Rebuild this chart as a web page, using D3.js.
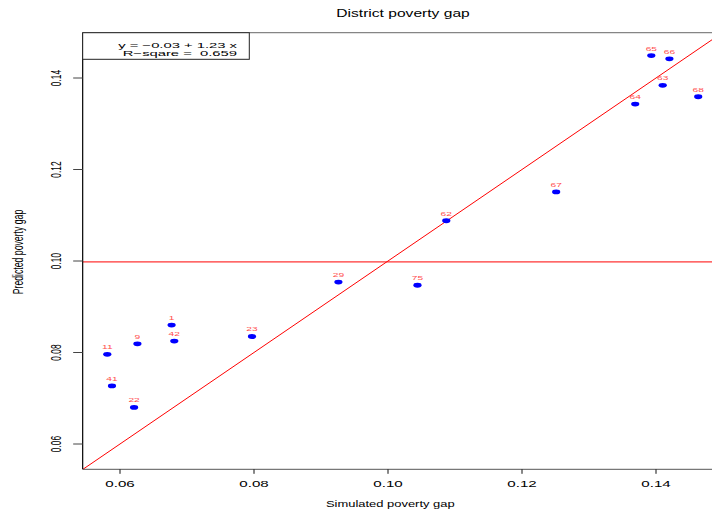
<!DOCTYPE html>
<html>
<head>
<meta charset="utf-8">
<script src="https://cdn.jsdelivr.net/npm/d3@7"></script>
<style>
  html, body { margin: 0; padding: 0; background: #fff; }
  svg { display: block; }
  text { font-family: "Liberation Sans", Arial, Helvetica, sans-serif; }
</style>
</head>
<body>
<svg id="chart" width="712" height="514"></svg>
<script>
// ---- data ----
const districts = ["1","9","11","22","23","29","41","42","62","63","64","65","66","67","68","75"];
const simulated = [0.0677,0.0626,0.0581,0.0621,0.0797,0.0926,0.0588,0.0681,0.1087,0.1410,0.1369,0.1393,0.1420,0.1251,0.1463,0.1044];
const predicted = [0.0860,0.0819,0.0796,0.0680,0.0835,0.0954,0.0727,0.0825,0.1088,0.1384,0.1343,0.1449,0.1442,0.1151,0.1359,0.0947];
const xTicks = [0.06, 0.08, 0.10, 0.12, 0.14];
const yTicks = [0.06, 0.08, 0.10, 0.12, 0.14];
const xTickLabels = ["0.06","0.08","0.10","0.12","0.14"];
const yTickLabels = ["0.06","0.08","0.10","0.12","0.14"];
const meanPredicted = [0.0998];
const xLimits = [0.05443, 0.1560];
const yLimits = [0.05447, 0.1499];
const legendLines = ["y = \u22120.03 + 1.23 x", "R\u2212sqare =  0.659"];
const titleText = "District poverty gap";
const xTitle = "Simulated poverty gap";
const yTitle = "Predicted poverty gap";

// ---- scales ----
const x = d3.scaleLinear().domain([0.06, 0.14]).range([120, 656]);
const y = d3.scaleLinear().domain([0.06, 0.14]).range([444, 78]);

const svg = d3.select("#chart");
const L = x(xLimits[0]), R = x(xLimits[1]), T = y(yLimits[1]), B = y(yLimits[0]);

function stext(parent, px, py, str, o) {
  const g = parent.append("g")
    .attr("transform", `translate(${px},${py}) scale(${o.sx},1)` + (o.rot ? " rotate(-90)" : ""));
  return g.append("text")
    .attr("text-anchor", o.anchor || "middle")
    .style("font-size", o.size + "px")
    .style("white-space", "pre")
    .attr("fill", o.fill || "#000")
    .text(str);
}

svg.append("defs").append("clipPath").attr("id", "plotclip")
  .append("rect").attr("x", L).attr("y", T).attr("width", R - L).attr("height", B - T);

// box
svg.append("line").attr("x1", L).attr("x2", R).attr("y1", T).attr("y2", T).attr("stroke", "#666").attr("stroke-width", 1);
svg.append("line").attr("x1", L).attr("x2", R).attr("y1", B).attr("y2", B).attr("stroke", "#555").attr("stroke-width", 1);

const plot = svg.append("g").attr("clip-path", "url(#plotclip)");

// horizontal mean line
plot.selectAll("line.mean").data(meanPredicted).enter().append("line")
  .attr("x1", L).attr("x2", R).attr("y1", d => y(d)).attr("y2", d => y(d))
  .attr("stroke", "#ff0000").attr("stroke-width", 1);

// 45-degree line
plot.append("line")
  .attr("x1", x(xLimits[0])).attr("y1", y(xLimits[0]))
  .attr("x2", x(xLimits[1])).attr("y2", y(xLimits[1]))
  .attr("stroke", "#ff0000").attr("stroke-width", 1);

// points
plot.selectAll("ellipse.pt").data(districts).enter().append("ellipse")
  .attr("cx", (d, i) => x(simulated[i]))
  .attr("cy", (d, i) => y(predicted[i]))
  .attr("rx", 4.1).attr("ry", 2.4)
  .attr("fill", "#0000ff");

// point labels
districts.forEach((d, i) => {
  stext(plot, x(simulated[i]), y(predicted[i]) - 5, d, {size: 6, sx: 1.7, fill: "#ff4f4f"});
});

// left axis line
svg.append("line").attr("x1", L).attr("x2", L).attr("y1", T).attr("y2", B).attr("stroke", "#000").attr("stroke-width", 1.2);

// x ticks
xTicks.forEach((t, i) => {
  svg.append("line").attr("x1", x(t)).attr("x2", x(t)).attr("y1", B).attr("y2", B + 4.5)
    .attr("stroke", "#111").attr("stroke-width", 1);
  stext(svg, x(t), 487, xTickLabels[i], {size: 8.4, sx: 1.8});
});

// y ticks
yTicks.forEach((t, i) => {
  svg.append("line").attr("x1", L - 9.5).attr("x2", L).attr("y1", y(t)).attr("y2", y(t))
    .attr("stroke", "#444").attr("stroke-width", 1);
  stext(svg, 60.7, y(t), yTickLabels[i], {size: 8.4, sx: 1.78, rot: true});
});

// legend box
svg.append("rect").attr("x", L).attr("y", T).attr("width", 249.3 - L).attr("height", 59.3 - T)
  .attr("fill", "#fff").attr("stroke", "#222").attr("stroke-width", 1);
stext(svg, 237, 47.8, legendLines[0], {size: 8, sx: 1.85, anchor: "end"});
stext(svg, 237, 56, legendLines[1], {size: 8, sx: 1.85, anchor: "end"});

// titles
stext(svg, 403, 16.7, titleText, {size: 10.2, sx: 1.53});
stext(svg, 390.3, 507.3, xTitle, {size: 9, sx: 1.44});
stext(svg, 23.3, 252, yTitle, {size: 8.7, sx: 1.6, rot: true});
</script>
</body>
</html>
